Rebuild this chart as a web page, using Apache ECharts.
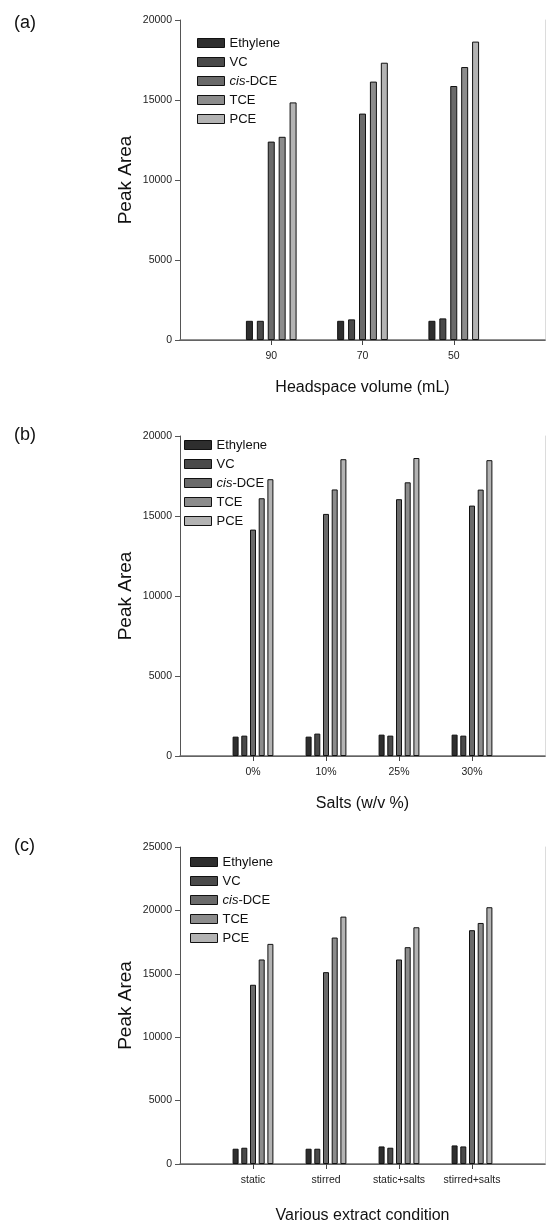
<!DOCTYPE html>
<html>
<head>
<meta charset="utf-8">
<script src="https://cdn.jsdelivr.net/npm/echarts@6/dist/echarts.min.js"></script>
<style>
  html, body { margin: 0; padding: 0; background: #fff; }
  #chart { width: 548px; height: 1225px; }
</style>
</head>
<body>
<div id="chart"></div>
<script>
// series shared by all three panels
var seriesNames = ['Ethylene', 'VC', 'cis-DCE', 'TCE', 'PCE'];
var seriesColors = ['#2e2e2e', '#4a4a4a', '#6a6a6a', '#8c8c8c', '#b3b3b3'];

// (a) headspace volume
var headspaceLabels = ['90', '70', '50'];
var headspaceEthylene = [1200, 1200, 1200];
var headspaceVC = [1200, 1290, 1350];
var headspaceCisDCE = [12400, 14150, 15875];
var headspaceTCE = [12700, 16150, 17060];
var headspacePCE = [14850, 17330, 18650];

// (b) salts
var saltLabels = ['0%', '10%', '25%', '30%'];
var saltEthylene = [1210, 1210, 1335, 1335];
var saltVC = [1273, 1400, 1273, 1273];
var saltCisDCE = [14150, 15130, 16050, 15650];
var saltTCE = [16110, 16660, 17105, 16650];
var saltPCE = [17300, 18550, 18625, 18490];

// (c) extract condition
var conditionLabels = ['static', 'stirred', 'static+salts', 'stirred+salts'];
var conditionEthylene = [1204, 1204, 1385, 1464];
var conditionVC = [1283, 1204, 1283, 1385];
var conditionCisDCE = [14135, 15130, 16130, 18440];
var conditionTCE = [16130, 17860, 17100, 19010];
var conditionPCE = [17360, 19510, 18670, 20250];

var sans = "'Liberation Sans', Arial, sans-serif";

var option = {
  animation: false,
  backgroundColor: '#fff',
  title: [],
  legend: [],
  grid: [],
  xAxis: [],
  yAxis: [],
  series: []
};

function addPanel(p) {
  var i = option.grid.length;
  option.title.push({
    text: p.tag, left: 14, top: p.tagTop, padding: 0,
    textStyle: { fontFamily: sans, fontSize: 18, fontWeight: 'normal', color: '#111' }
  });
  option.grid.push({ left: 180, top: p.top, width: 367, height: p.height });

  var cats = [''].concat(p.labels, ['']);
  option.xAxis.push({
    type: 'category', gridIndex: i, data: cats, boundaryGap: false,
    name: p.xName, nameLocation: 'middle', nameGap: p.nameGap, nameMoveOverlap: false,
    nameTextStyle: { fontFamily: sans, fontSize: 16, color: '#111' },
    axisLine: { lineStyle: { color: '#444', width: 1 } },
    axisTick: { length: 5, interval: function (idx, v) { return v !== ''; },
      lineStyle: { color: '#444' } },
    axisLabel: { interval: 0, margin: 11, fontFamily: sans, fontSize: 10.5, color: '#222' },
    splitLine: { show: false }
  });
  // top frame line
  option.xAxis.push({
    type: 'category', gridIndex: i, data: cats, boundaryGap: false, position: 'top',
    axisLine: { lineStyle: { color: '#6e6e6e', width: 1.5 } },
    axisTick: { show: false }, axisLabel: { show: false }, splitLine: { show: false }
  });
  option.yAxis.push({
    type: 'value', gridIndex: i, min: 0, max: p.yMax, interval: 5000,
    name: 'Peak Area', nameLocation: 'middle', nameGap: 45, nameMoveOverlap: false,
    nameTextStyle: { fontFamily: sans, fontSize: 19, color: '#111' },
    axisLine: { show: true, lineStyle: { color: '#555', width: 1 } },
    axisTick: { show: true, length: 5, lineStyle: { color: '#555' } },
    axisLabel: { margin: 8, fontFamily: sans, fontSize: 10.5, color: '#222',
      formatter: function (v) { return String(v); } },
    splitLine: { show: false }
  });
  // faint right frame line
  option.yAxis.push({
    type: 'value', gridIndex: i, min: 0, max: p.yMax, position: 'right',
    axisLine: { show: true, lineStyle: { color: '#dcdcdc', width: 1 } },
    axisTick: { show: false }, axisLabel: { show: false }, splitLine: { show: false }
  });

  var names = [];
  p.values.forEach(function (vals, s) {
    var name = seriesNames[s];
    names.push(name);
    option.series.push({
      type: 'bar', name: name,
      xAxisIndex: i * 2, yAxisIndex: i * 2,
      data: ['-'].concat(vals, ['-']),
      barWidth: p.barWidth, barGap: p.barGap,
      itemStyle: { color: seriesColors[s], borderColor: '#111', borderWidth: 1 }
    });
  });

  option.legend.push({
    orient: 'vertical', left: p.legendLeft, top: p.legendTop, padding: 0,
    itemWidth: 27, itemHeight: 9, itemGap: 5, icon: 'rect',
    selectedMode: false,
    data: names,
    itemStyle: { borderColor: '#111', borderWidth: 1 },
    formatter: function (n) { return n === 'cis-DCE' ? '{i|cis}-DCE' : n; },
    textStyle: {
      fontFamily: sans, fontSize: 13, lineHeight: 14, color: '#111',
      rich: { i: { fontFamily: sans, fontSize: 13, fontStyle: 'italic', color: '#111' } }
    }
  });
}

addPanel({
  tag: '(a)', tagTop: 14, top: 20, height: 320, yMax: 20000,
  labels: headspaceLabels,
  values: [headspaceEthylene, headspaceVC, headspaceCisDCE, headspaceTCE, headspacePCE],
  barWidth: 7, barGap: '56%',
  xName: 'Headspace volume (mL)', nameGap: 40,
  legendLeft: 197, legendTop: 36
});
addPanel({
  tag: '(b)', tagTop: 426, top: 436, height: 320, yMax: 20000,
  labels: saltLabels,
  values: [saltEthylene, saltVC, saltCisDCE, saltTCE, saltPCE],
  barWidth: 6, barGap: '45%',
  xName: 'Salts (w/v %)', nameGap: 40,
  legendLeft: 184, legendTop: 438
});
addPanel({
  tag: '(c)', tagTop: 837, top: 847, height: 317, yMax: 25000,
  labels: conditionLabels,
  values: [conditionEthylene, conditionVC, conditionCisDCE, conditionTCE, conditionPCE],
  barWidth: 6, barGap: '45%',
  xName: 'Various extract condition', nameGap: 44,
  legendLeft: 190, legendTop: 855
});

var chart = echarts.init(document.getElementById('chart'));
chart.setOption(option);
</script>
</body>
</html>
